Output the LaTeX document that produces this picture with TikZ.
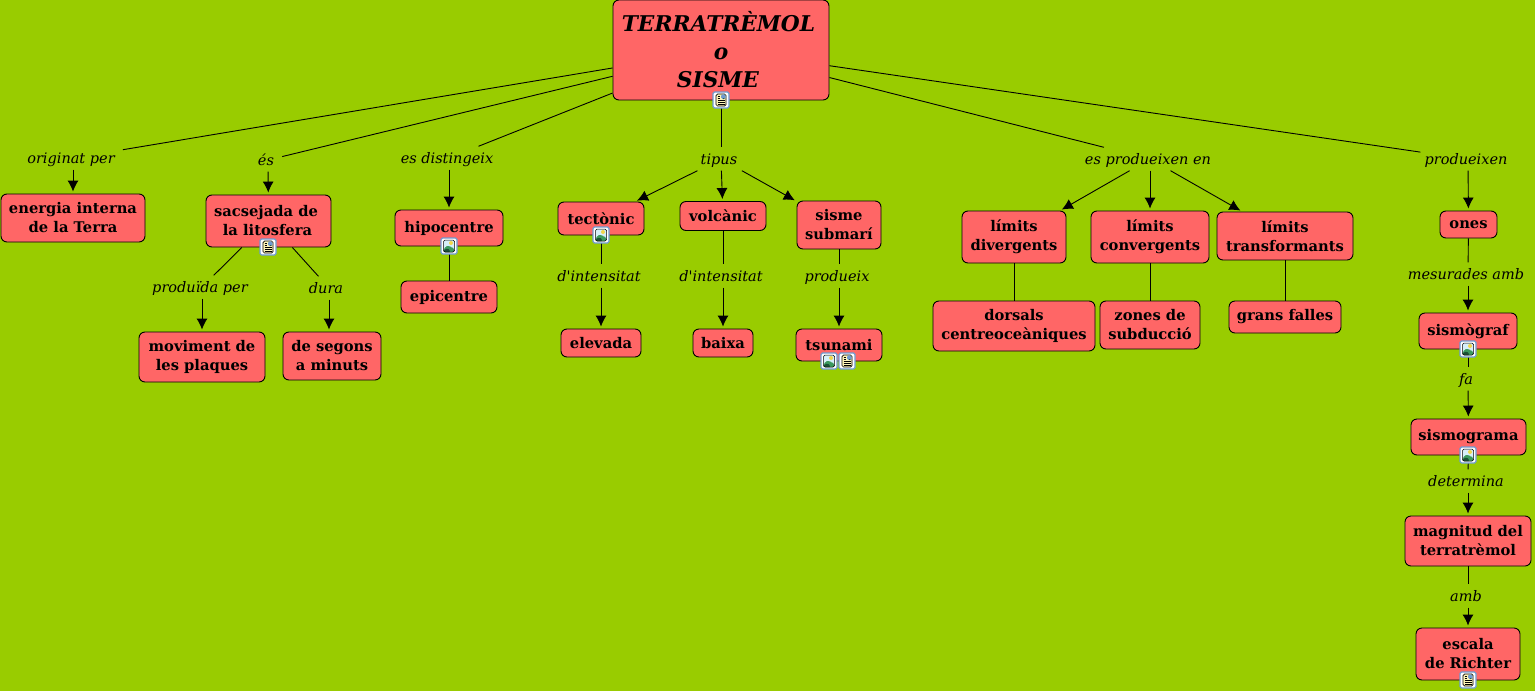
\documentclass[tikz,border=0pt]{standalone}
\usepackage{fontspec}
\setmainfont{DejaVu Serif}[Ligatures=TeXOff]
\usetikzlibrary{arrows.meta}
\definecolor{bgc}{HTML}{99CC00}
\definecolor{boxc}{HTML}{FF6666}
\definecolor{iconb}{HTML}{6F9BD0}
\definecolor{paperc}{HTML}{FFF6B8}
\definecolor{skyc}{HTML}{D6EFF9}
\definecolor{hillc}{HTML}{3C9A5E}
\definecolor{hilld}{HTML}{1B4F35}
\definecolor{sunc}{HTML}{F2D64B}
\tikzset{
  x=1pt,y=-1pt,
  concept/.style={draw=black,fill=boxc,line width=0.9pt,rounded corners=6pt,inner sep=0pt,align=center,
    font=\fontsize{14.7}{19}\selectfont\bfseries},
  rootconcept/.style={concept,font=\fontsize{21.7}{28}\selectfont\bfseries\itshape},
  linklabel/.style={inner xsep=4pt,inner ysep=5pt,text height=11.5pt,text depth=1.5pt,
    font=\fontsize{14.5}{16}\selectfont\itshape},
  conn/.style={line width=0.9pt,black},
  arrowconn/.style={conn,-{Latex[length=11pt,width=11pt]},shorten >=2pt},
  iconbase/.style={draw=iconb,line width=1.2pt,fill=white,rounded corners=1.5pt,minimum size=16pt,inner sep=0pt},
  docicon/.style={iconbase,path picture={
    \begin{scope}[shift={(path picture bounding box.center)}]
      \draw[black,fill=paperc,line width=0.7pt] (-5,-6) rectangle (5,6);
      \fill[iconb] (0,-5.6) rectangle (4.6,-1);
      \fill[hilld] (1,-1) -- (2.5,-3) -- (4.6,-1) -- cycle;
      \draw[black,line width=0.7pt] (-3.5,-3.5) -- (-1,-3.5) (-3.5,-1.5) -- (-1,-1.5)
        (-3.5,0.5) -- (3.5,0.5) (-3.5,2.5) -- (3.5,2.5) (-3.5,4.5) -- (3.5,4.5);
    \end{scope}
  }},
  imgicon/.style={iconbase,path picture={
    \begin{scope}[shift={(path picture bounding box.center)}]
      \fill[skyc] (-5.5,-6) rectangle (5.5,6);
      \fill[sunc] (2,-3) circle (2);
      \fill[hillc] (-5.5,6) -- (-5.5,3) -- (-1,-1) -- (1,1.5) -- (3,0.5) -- (5.5,4) -- (5.5,6) -- cycle;
      \fill[hilld] (-5.5,6) -- (-5.5,4.5) -- (-1.5,2) -- (2,6) -- cycle;
      \draw[black,line width=0.5pt] (-5.5,-6) rectangle (5.5,6);
    \end{scope}
  }},
}
\newcommand{\cn}[6]{\node[concept,minimum width=#4pt,minimum height=#5pt] (#1) at (#2,#3) {#6};}
\newcommand{\lk}[4]{\node[linklabel] (#1) at (#2,#3) {#4\hspace*{4pt}};}
\begin{document}
\begin{tikzpicture}
\useasboundingbox[fill=bgc] (0,0) rectangle (1535,691);
% concepts
\node[rootconcept,minimum width=216pt,minimum height=100pt] (root) at (721,50) {TERRATRÈMOL\hspace*{5pt}\\o\hspace*{9pt}\\SISME\hspace*{6pt}};
\cn{energia}{73}{218}{144}{48}{energia interna\\de la Terra}
\cn{sacs}{268.5}{221}{125}{52}{sacsejada de\hspace*{5pt}\\la litosfera\hspace*{2pt}}
\cn{hipo}{449}{228}{108}{36}{hipocentre}
\cn{epi}{449}{297}{96}{32}{epicentre}
\cn{tect}{601}{218.5}{86}{33}{tectònic}
\cn{volc}{723}{216}{86}{29}{volcànic}
\cn{subm}{839}{225}{84}{48}{sisme\\submarí}
\cn{elev}{601}{343}{80}{28}{elevada}
\cn{baixa}{723}{343}{60}{28}{baixa}
\cn{tsun}{839}{345}{86}{32}{tsunami}
\cn{ldiv}{1014}{237}{104}{52}{límits\\divergents}
\cn{lconv}{1150}{237}{118}{52}{límits\\convergents}
\cn{ltran}{1285}{236}{136}{48}{límits\\transformants}
\cn{dors}{1014}{326}{162}{50}{dorsals\\centreoceàniques}
\cn{zones}{1150}{325}{100}{48}{zones de\\subducció}
\cn{grans}{1285}{317}{112}{32}{grans falles}
\cn{ones}{1468.5}{224.5}{57}{27}{ones}
\cn{sismf}{1468}{331}{98}{36}{sismògraf}
\cn{sismg}{1468.5}{437}{115}{36}{sismograma}
\cn{magn}{1468}{541}{126}{50}{magnitud del\\terratrèmol}
\cn{esca}{1468}{654}{104}{52}{escala\\de Richter}
\cn{movi}{202}{357}{126}{50}{moviment de\\les plaques}
\cn{segons}{332}{356}{98}{48}{de segons\\a minuts}
% linking phrases
\lk{lorig}{73}{158}{originat per}
\lk{les}{268}{160}{és}
\lk{ldist}{449}{158}{es distingeix}
\lk{ltip}{721}{159}{tipus}
\lk{lprod}{1150}{159}{es produeixen en}
\lk{lpdx}{1468}{159}{produeixen}
\lk{lpdd}{202}{287}{produïda per}
\lk{ldura}{329}{288}{dura\hspace*{2pt}}
\lk{lint}{601}{276}{d'intensitat}
\lk{lintb}{723}{276}{d'intensitat}
\lk{lprd}{839}{276}{produeix}
\lk{lmes}{1468}{274}{mesurades amb}
\lk{lfa}{1468}{379}{fa}
\lk{ldet}{1468}{481}{determina}
\lk{lamb}{1468}{596}{amb}
% connectors
\foreach \a/\b in {root/lorig,root/les,root/ldist,root/ltip,root/lprod,root/lpdx,
  sacs/lpdd,sacs/ldura,tect/lint,volc/lintb,subm/lprd,ones/lmes,sismf/lfa,sismg/ldet,magn/lamb,
  hipo/epi,ldiv/dors,lconv/zones,ltran/grans}
  \draw[conn] (\a) -- (\b);
\foreach \a/\b in {lorig/energia,les/sacs,ldist/hipo,ltip/tect,ltip/volc,ltip/subm,
  lprod/ldiv,lprod/lconv,lprod/ltran,lpdx/ones,lpdd/movi,lint/elev,lintb/baixa,lprd/tsun,
  lmes/sismf,lfa/sismg,ldet/magn,lamb/esca}
  \draw[arrowconn] (\a) -- (\b);
\draw[arrowconn] (ldura) -- (ldura |- segons.north);
% icons
\node[docicon] (i1) at (721,100) {};
\node[docicon] (i2) at (268,247) {};
\node[imgicon] (i3) at (449,246) {};
\node[imgicon] (i4) at (601,235) {};
\node[imgicon] (i5) at (829,361) {};
\node[docicon] (i6) at (847,361) {};
\node[imgicon] (i7) at (1468,349) {};
\node[imgicon] (i8) at (1468,455) {};
\node[docicon] (i9) at (1468,680) {};
\end{tikzpicture}
\end{document}
